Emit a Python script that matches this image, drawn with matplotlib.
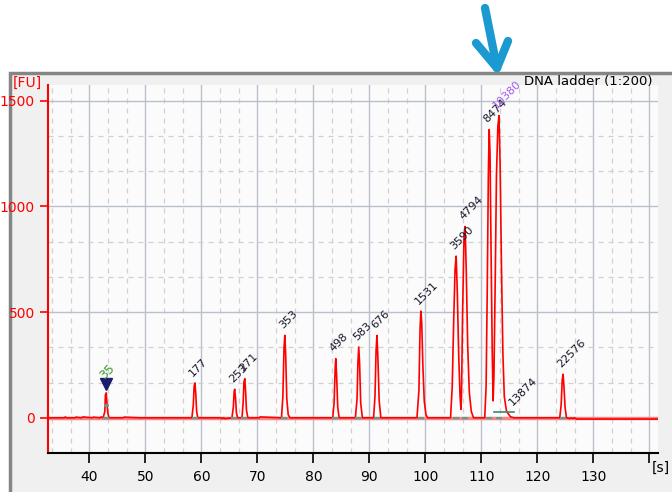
import numpy as np
import matplotlib.pyplot as plt
from matplotlib.lines import Line2D
from matplotlib.patches import Rectangle

'''---Data---'''

# peak table: label, migration time [s], height [FU]
peak_labels = ["35", "177", "253", "271", "353", "498", "583", "676",
               "1531", "3590", "4794", "8474", "10380", "13874", "22576"]
peak_time = [43.0, 58.85, 65.95, 67.75, 74.9, 84.0, 88.1, 91.35,
             99.2, 105.5, 107.1, 111.4, 113.15, 115.9, 124.6]
peak_height = [118, 165, 135, 185, 390, 280, 335, 390,
               505, 765, 905, 1364, 1430, 25, 206]
label_color = {"35": "#3c9a32", "10380": "#a259ee"}

# electropherogram trace (time [s], signal [FU])
trace_t = [32.6, 35.5, 35.7, 35.9, 37.4, 37.6, 38.6, 38.8, 40.5, 40.7, 41.9, 42.1,
           42.45, 42.75, 42.85, 43.0, 43.15, 43.3, 43.5,
           46.0, 46.2, 49.0,
           58.3, 58.55, 58.7, 58.85, 59.0, 59.15, 59.35,
           63.5, 63.7, 64.0, 64.2,
           65.45, 65.7, 65.85, 65.95, 66.1, 66.25, 66.45,
           67.25, 67.45, 67.6, 67.75, 67.9, 68.05, 68.3,
           70.3, 70.5,
           74.3, 74.55, 74.75, 74.9, 75.05, 75.25, 75.5, 75.8,
           83.45, 83.7, 83.9, 84.0, 84.15, 84.35, 84.6,
           87.5, 87.8, 87.95, 88.1, 88.25, 88.45, 88.75,
           90.75, 91.0, 91.2, 91.35, 91.5, 91.75, 92.05,
           98.5, 98.85, 99.05, 99.2, 99.35, 99.55, 99.8, 100.1, 100.4,
           104.5, 104.8, 105.05, 105.3, 105.5, 105.7, 105.95, 106.2, 106.35,
           106.45, 106.65, 106.9, 107.1, 107.3, 107.55, 107.85, 108.2, 108.6,
           110.6, 110.85, 111.05, 111.25, 111.4, 111.55, 111.75, 111.95, 112.1,
           112.25, 112.5, 112.7, 112.95, 113.15, 113.35, 113.6, 113.85, 114.1,
           114.5, 115.2, 115.8,
           124.0, 124.25, 124.45, 124.6, 124.75, 124.95, 125.2,
           125.8, 126.0, 126.4, 126.6, 127.0, 141.6]
trace_fu = [0, 0, 4, 0, 0, 3, 0, 4, 0, 3, 0, 4,
            0, 30, 108, 118, 60, 20, 0,
            0, 3, 0,
            0, 60, 150, 165, 110, 30, 0,
            0, -4, 0, -4,
            0, 50, 125, 135, 90, 25, 0,
            0, 70, 170, 185, 120, 35, 0,
            0, 4,
            0, 100, 330, 390, 300, 90, 15, 0,
            0, 70, 240, 280, 200, 50, 0,
            0, 90, 260, 335, 260, 70, 0,
            0, 100, 320, 390, 300, 80, 0,
            0, 130, 420, 505, 450, 250, 80, 15, 0,
            0, 150, 450, 700, 765, 600, 300, 100, 40,
            100, 500, 850, 905, 700, 350, 120, 30, 0,
            0, 150, 600, 1150, 1364, 1250, 750, 300, 80,
            200, 700, 1150, 1380, 1430, 1200, 700, 300, 100,
            30, 5, 0,
            0, 60, 180, 206, 150, 50, 0,
            -4, 0, -4, 0, -6, -6]

'''---Plot---'''

fig = plt.figure(figsize=(6.72, 4.92), dpi=100)
W, H = 672.0, 492.0

# grey window frame
fig.patches.append(Rectangle((10 / W, -0.05), 1.1, 1 - 73 / H + 0.05,
                             transform=fig.transFigure, facecolor="#f0f0f0",
                             edgecolor="#858585", lw=2.5, zorder=-10))

ax = fig.add_axes([48 / W, 1 - 453 / H, 610 / W, 368 / H])
ax.set_facecolor("#fbfbfb")
ax.set_xlim(32.6, 141.55)
ax.set_ylim(-150, 1575)

# grid
ax.set_xticks(np.arange(40, 141, 10))
ax.set_xticklabels([str(v) for v in range(40, 131, 10)] + [""])
ax.set_yticks([0, 500, 1000, 1500])
ax.set_xticks(np.arange(100 / 3, 141, 10 / 3), minor=True)
ax.set_yticks(np.arange(-500 / 3, 1575, 500 / 3), minor=True)
ax.grid(which="major", color="#b8c0cb", lw=1.0, ls="-")
ax.grid(which="minor", color="#d0d0d0", lw=0.9, ls=(0, (4, 4)))
ax.set_axisbelow(True)

for s in ["top", "right"]:
    ax.spines[s].set_visible(False)
ax.spines["left"].set_color("red")
ax.spines["left"].set_linewidth(1.5)
ax.spines["bottom"].set_color("black")
ax.spines["bottom"].set_linewidth(1.5)
ax.tick_params(axis="y", which="major", colors="red", labelcolor="red",
               length=6, width=1.2, labelsize=10)
ax.tick_params(axis="x", which="major", colors="black", length=7, width=1.2,
               labelsize=10, pad=5)
ax.tick_params(which="minor", length=0)

# baseline band and trace
ax.axhline(0, color="#f08a8a", lw=2.5, zorder=2)
ax.plot(trace_t, trace_fu, color="red", lw=1.2, zorder=3)

# peak start/end markers
for i, lab in enumerate(peak_labels):
    t = peak_time[i]
    if lab == "13874":
        ax.plot([112.2, 115.8], [28, 28], color="#3d8a6e", lw=1.2, zorder=4)
        continue
    ax.plot([t - 0.6, t + 0.6], [0, 0], color="#5f9e8c", lw=1.5,
            ls=(0, (3, 1)), zorder=4)

ax.plot([42.8, 43.2], [60, 60], color="#5f9e8c", lw=2, zorder=4)
ax.plot([43.0], [158], marker="v", ms=9, color="#1c1c70", zorder=5)

# rotated peak labels
for i, lab in enumerate(peak_labels):
    t = peak_time[i]
    h = peak_height[i]
    y = h + 30
    fs = 8
    if lab == "35":
        y = h + 62
        fs = 9
    ax.text(t - 0.35, y, lab, rotation=45, rotation_mode="anchor",
            ha="left", va="baseline", fontsize=fs,
            color=label_color.get(lab, "#16162a"), zorder=6)

fig.text(27 / W, 1 - 83 / H, "[FU]", color="red", fontsize=10,
         ha="center", va="center")
fig.text(653 / W, 1 - 82 / H, "DNA ladder (1:200)", color="black",
         fontsize=9.5, ha="right", va="center")
fig.text(661 / W, 1 - 468 / H, "[s]", color="black", fontsize=10,
         ha="center", va="center")

# blue arrow pointing at the 10380 peak
blue = "#1a9ad0"
for xy in [((485, 8), (497, 68)), ((476, 43), (497, 68)), ((508, 41), (497, 68))]:
    (x0, y0), (x1, y1) = xy
    fig.add_artist(Line2D([x0 / W, x1 / W], [1 - y0 / H, 1 - y1 / H],
                          transform=fig.transFigure, color=blue, lw=6,
                          solid_capstyle="round"))

plt.savefig("out.png", dpi=100)
